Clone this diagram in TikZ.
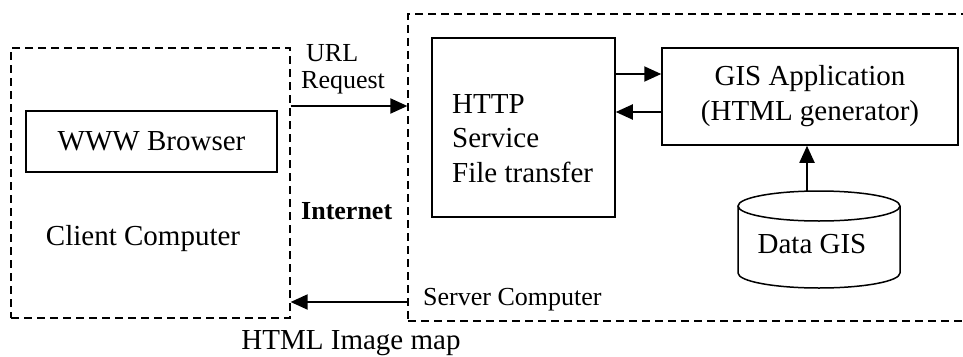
\documentclass[tikz,border=0pt]{standalone}
\usepackage{fontspec}
\setmainfont{Liberation Serif}
\usetikzlibrary{arrows.meta}
\begin{document}
\begin{tikzpicture}[x=1pt,y=-1pt,
  solidbox/.style={draw=black, line width=1.5pt, rectangle, inner sep=0pt},
  dashbox/.style={draw=black, line width=1.2pt, dash pattern=on 8pt off 5pt, rectangle, inner sep=0pt},
  arr/.style={line width=1.9pt, -{Triangle[length=17pt,width=15pt]}},
  bigtxt/.style={font=\fontsize{29}{35}\selectfont, inner sep=0pt},
  smalltxt/.style={font=\fontsize{26}{30}\selectfont, inner sep=0pt}]
\useasboundingbox (0,0) rectangle (963,356);
% containers
\node[dashbox, minimum width=279pt, minimum height=270pt] (client) at (150.5,183) {};
\node[dashbox, minimum width=582pt, minimum height=307pt] (server) at (699,167.5) {};
% boxes
\node[solidbox, bigtxt, minimum width=251pt, minimum height=61pt] (browser) at (151.5,141.5) {WWW Browser};
\node[solidbox, minimum width=183pt, minimum height=179pt] (http) at (523.5,127.5) {};
\node[solidbox, bigtxt, align=center, minimum width=296pt, minimum height=97pt] (gis) at (810,96.5) {GIS Application\\(HTML generator)};
% database cylinder
\draw[line width=1.5pt] (738,206) -- (738,273) arc[start angle=180, end angle=0, x radius=81, y radius=15] -- (900,206);
\draw[line width=1.5pt] (819,206) ellipse[x radius=81, y radius=15];
\coordinate (dtop) at (807,191);
% texts
\node[bigtxt, anchor=base] (dataTxt) at (812,253) {Data GIS};
\node[bigtxt, anchor=base] (clientTxt) at (143,245) {Client Computer};
\node[bigtxt, anchor=base west] (h1) at (452,113) {HTTP};
\node[bigtxt, anchor=base west] (h2) at (452,147) {Service};
\node[bigtxt, anchor=base west] (h3) at (452,182) {File transfer};
\node[smalltxt, anchor=base west] (url1) at (306,61) {URL};
\node[smalltxt, anchor=base west] (url2) at (301,88) {Request};
\node[smalltxt, anchor=base west, font=\fontsize{26}{30}\selectfont\bfseries] (inet) at (301,219) {Internet};
\node[smalltxt, anchor=base west] (serverTxt) at (423,305) {Server Computer};
\node[bigtxt, anchor=base] (htmlmap) at (351,349) {HTML Image map};
% connectors
\draw[arr] (client.east |- 0,106) -- (server.west |- 0,106);
\draw[arr] (server.west |- 0,302) -- (client.east |- 0,302);
\draw[arr] (http.east |- 0,74) -- (gis.west |- 0,74);
\draw[arr] (gis.west |- 0,112) -- (http.east |- 0,112);
\draw[arr] (dtop) -- (dtop |- gis.south);
\end{tikzpicture}
\end{document}
